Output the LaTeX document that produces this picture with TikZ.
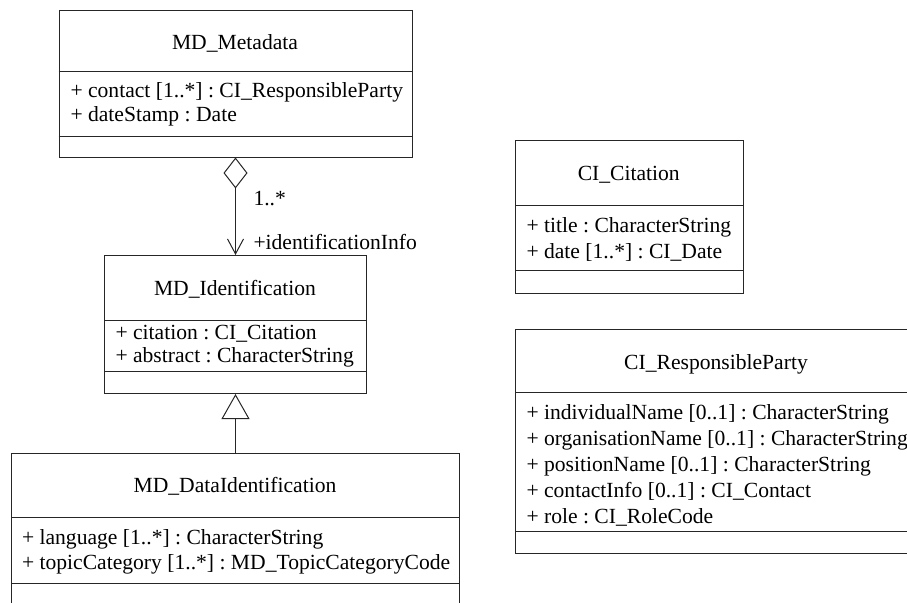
\documentclass[tikz,border=0pt]{standalone}
\usepackage{fontspec}
\setmainfont{Liberation Serif}
\usetikzlibrary{arrows.meta}
\frenchspacing

\begin{document}
\begin{tikzpicture}[x=1pt,y=-1pt,line width=1pt]
\tikzstyle{every node}+=[inner sep=0pt,font=\fontsize{21.6}{25}\selectfont]
\tikzstyle{classbox}=[draw=black!85,rectangle,anchor=north west]
\tikzstyle{title}=[anchor=base]
\tikzstyle{attr}=[anchor=base west]
\tikzstyle{aggr}=[draw=black!85,{Diamond[open,length=31pt,width=24pt]}-{Straight Barb[length=15pt,width=16pt]}]
\tikzstyle{gener}=[draw=black!85,-{Triangle[open,length=25pt,width=28pt]}]
\useasboundingbox (0,0) rectangle (907,602);
\clip (0,0) rectangle (907,602);
\node [classbox,minimum width=353pt,minimum height=146.5pt] (meta) at (58.5,10) {};
\draw [black!85] (meta.north west) ++(0,61.7) -- ++(353,0);
\draw [black!85] (meta.north west) ++(0,126) -- ++(353,0);
\node [title] (meta-t) at (235,49.5) {MD\_Metadata};
\node [attr] (meta-a1) at (70,97.5) {+ contact [1..*] : CI\_ResponsibleParty};
\node [attr] (meta-a2) at (70,121) {+ dateStamp : Date};
\node [classbox,minimum width=261.5pt,minimum height=138pt] (ident) at (104.25,255) {};
\draw [black!85] (ident.north west) ++(0,65) -- ++(261.5,0);
\draw [black!85] (ident.north west) ++(0,116) -- ++(261.5,0);
\node [title] (ident-t) at (235,295) {MD\_Identification};
\node [attr] (ident-a1) at (115,339.5) {+ citation : CI\_Citation};
\node [attr] (ident-a2) at (115,362) {+ abstract : CharacterString};
\node [classbox,minimum width=448pt,minimum height=200pt] (dataid) at (11,453) {};
\draw [black!85] (dataid.north west) ++(0,64.5) -- ++(448,0);
\draw [black!85] (dataid.north west) ++(0,130.5) -- ++(448,0);
\node [title] (dataid-t) at (235,492) {MD\_DataIdentification};
\node [attr] (dataid-a1) at (21.5,544.5) {+ language [1..*] : CharacterString};
\node [attr] (dataid-a2) at (21.5,569.5) {+ topicCategory [1..*] : MD\_TopicCategoryCode};
\node [classbox,minimum width=227.5pt,minimum height=152.5pt] (cit) at (515,140) {};
\draw [black!85] (cit.north west) ++(0,65) -- ++(227.5,0);
\draw [black!85] (cit.north west) ++(0,130.5) -- ++(227.5,0);
\node [title] (cit-t) at (628.75,180) {CI\_Citation};
\node [attr] (cit-a1) at (526,232) {+ title : CharacterString};
\node [attr] (cit-a2) at (526,258.5) {+ date [1..*] : CI\_Date};
\node [classbox,minimum width=402pt,minimum height=224pt] (rp) at (515,328.5) {};
\draw [black!85] (rp.north west) ++(0,63.5) -- ++(402,0);
\draw [black!85] (rp.north west) ++(0,203) -- ++(402,0);
\node [title] (rp-t) at (716,369) {CI\_ResponsibleParty};
\foreach \t [count=\i] in {{+ individualName [0..1] : CharacterString},{+ organisationName [0..1] : CharacterString},{+ positionName [0..1] : CharacterString},{+ contactInfo [0..1] : CI\_Contact},{+ role : CI\_RoleCode}}
  \node [attr] (rp-a\i) at (526,{393+26*\i}) {\t};
\draw [aggr] (meta.south) -- (ident.north);
\node [attr] (mult) at (253,205) {1..*};
\node [attr] (role) at (253,249) {+identificationInfo};
\draw [gener] (dataid.north) -- (ident.south);
\end{tikzpicture}
\end{document}
